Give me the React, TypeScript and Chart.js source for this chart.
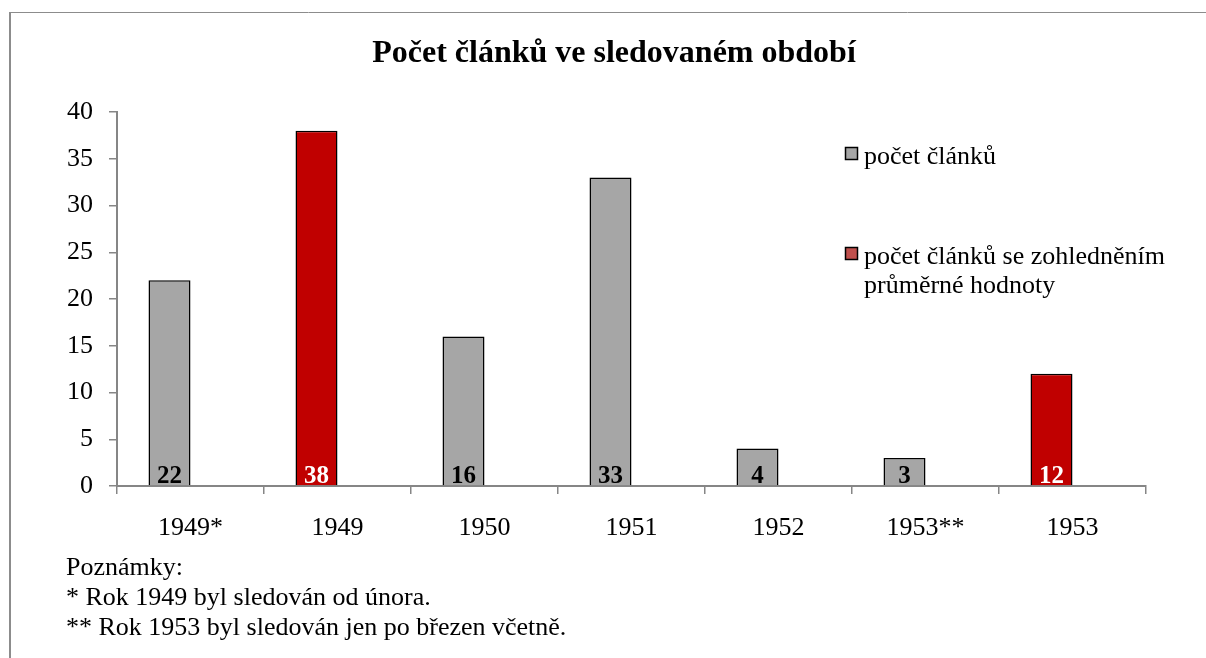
import React, { useEffect, useRef } from 'react';
import { Chart, registerables } from 'chart.js';

Chart.register(...registerables);

const categories = ['1949*', '1949', '1950', '1951', '1952', '1953**', '1953'];
const articleCounts = [22, null, 16, 33, 4, 3, null];
const adjustedCounts = [null, 38, null, null, null, null, 12];
const spacerValues = [null, null, null, null, null, null, null];
const yMin = 0;
const yMax = 40;
const yStep = 5;
const titleText = 'Počet článků ve sledovaném období';
const legendLabels = ['počet článků', 'počet článků se zohledněním průměrné hodnoty'];
const notes = [
  'Poznámky:',
  '* Rok 1949 byl sledován od února.',
  '** Rok 1953 byl sledován jen po březen včetně.',
];

const FONT = "'Liberation Serif', 'Times New Roman', serif";
const GRAY = '#A6A6A6';
const RED = '#C00000';
const RED_LEGEND = '#C0504D';
const AXIS = '#868686';

function wrapText(ctx: CanvasRenderingContext2D, text: string, maxWidth: number): string[] {
  const words = text.split(' ');
  const lines: string[] = [];
  let line = '';
  for (const w of words) {
    const test = line ? line + ' ' + w : w;
    if (ctx.measureText(test).width > maxWidth && line) {
      lines.push(line);
      line = w;
    } else {
      line = test;
    }
  }
  if (line) lines.push(line);
  return lines;
}

const overlayPlugin = {
  id: 'overlayText',
  afterDraw(chart: any) {
    const ctx: CanvasRenderingContext2D = chart.ctx;
    ctx.save();
    // frame
    ctx.strokeStyle = '#8c8c8c';
    ctx.lineWidth = 2;
    ctx.beginPath();
    ctx.moveTo(10, 12);
    ctx.lineTo(10, 700);
    ctx.stroke();
    ctx.lineWidth = 1;
    ctx.beginPath();
    ctx.moveTo(9, 12.5);
    ctx.lineTo(1300, 12.5);
    ctx.stroke();

    // title
    ctx.fillStyle = '#000';
    ctx.font = `bold 32px ${FONT}`;
    ctx.textAlign = 'center';
    ctx.textBaseline = 'alphabetic';
    ctx.fillText(titleText, 614, 62);

    // data labels
    ctx.font = `bold 25px ${FONT}`;
    const dsColors = ['#000', '#fff'];
    [0, 1].forEach((di) => {
      const meta = chart.getDatasetMeta(di);
      const values = chart.data.datasets[di].data;
      meta.data.forEach((el: any, j: number) => {
        const v = values[j];
        if (v === null || v === undefined) return;
        ctx.fillStyle = dsColors[di];
        ctx.fillText(String(v), el.x, chart.chartArea.bottom - 3);
      });
    });

    // legend
    ctx.textAlign = 'left';
    ctx.font = `26px ${FONT}`;
    const legendItems = [
      { color: GRAY, text: legendLabels[0], y: 147 },
      { color: RED_LEGEND, text: legendLabels[1], y: 247 },
    ];
    legendItems.forEach((it) => {
      ctx.fillStyle = it.color;
      ctx.fillRect(845.5, it.y + 0.5, 12, 12);
      ctx.strokeStyle = '#000';
      ctx.lineWidth = 1.5;
      ctx.strokeRect(845.5, it.y + 0.5, 12, 12);
      ctx.fillStyle = '#000';
      const lines = wrapText(ctx, it.text, 320);
      lines.forEach((ln, k) => {
        ctx.fillText(ln, 864, it.y + 16.5 + k * 29);
      });
    });

    // notes
    ctx.font = `26px ${FONT}`;
    notes.forEach((ln, k) => {
      ctx.fillText(ln, 66, 575 + k * 30);
    });
    ctx.restore();
  },
};

export default function App() {
  const canvasRef = useRef<HTMLCanvasElement | null>(null);

  useEffect(() => {
    if (!canvasRef.current) return;
    const chart = new Chart(canvasRef.current, {
      type: 'bar',
      data: {
        labels: categories,
        datasets: [
          {
            label: legendLabels[0],
            data: articleCounts,
            backgroundColor: GRAY,
            borderColor: '#000',
            borderWidth: 1.5,
            stack: 'main',
            categoryPercentage: 0.5714,
            barPercentage: 1,
          },
          {
            label: legendLabels[1],
            data: adjustedCounts,
            backgroundColor: RED,
            borderColor: '#000',
            borderWidth: 1.5,
            stack: 'main',
            categoryPercentage: 0.5714,
            barPercentage: 1,
          },
          {
            label: '',
            data: spacerValues,
            backgroundColor: 'rgba(0,0,0,0)',
            stack: 'spacer',
            categoryPercentage: 0.5714,
            barPercentage: 1,
          },
        ] as any,
      },
      options: {
        responsive: false,
        animation: false,
        layout: { padding: { left: 0, right: 60, top: 112, bottom: 0 } },
        plugins: {
          legend: { display: false },
          title: { display: false },
          tooltip: { enabled: false },
        },
        scales: {
          x: {
            stacked: true,
            grid: {
              display: true,
              offset: true,
              drawOnChartArea: false,
              drawTicks: true,
              tickLength: 8,
              color: AXIS,
              lineWidth: 1.5,
            },
            border: { display: true, color: AXIS, width: 2 },
            ticks: {
              color: '#000',
              font: { family: FONT, size: 26 },
              padding: 19,
              maxRotation: 0,
              autoSkip: false,
            },
            afterFit: (s: any) => {
              s.height = 172;
            },
          },
          y: {
            stacked: true,
            min: yMin,
            max: yMax,
            grid: {
              display: true,
              drawOnChartArea: false,
              drawTicks: true,
              tickLength: 8,
              color: AXIS,
              lineWidth: 1.5,
            },
            border: { display: true, color: AXIS, width: 2 },
            ticks: {
              stepSize: yStep,
              color: '#000',
              font: { family: FONT, size: 26 },
              padding: 16,
            },
            afterFit: (s: any) => {
              s.width = 117;
            },
          },
        },
      } as any,
      plugins: [overlayPlugin],
    });
    return () => chart.destroy();
  }, []);

  return (
    <div style={{ position: 'fixed', left: 0, top: 0, width: 1206, height: 658, background: '#fff' }}>
      <canvas ref={canvasRef} width={1206} height={658} style={{ display: 'block' }} />
    </div>
  );
}
